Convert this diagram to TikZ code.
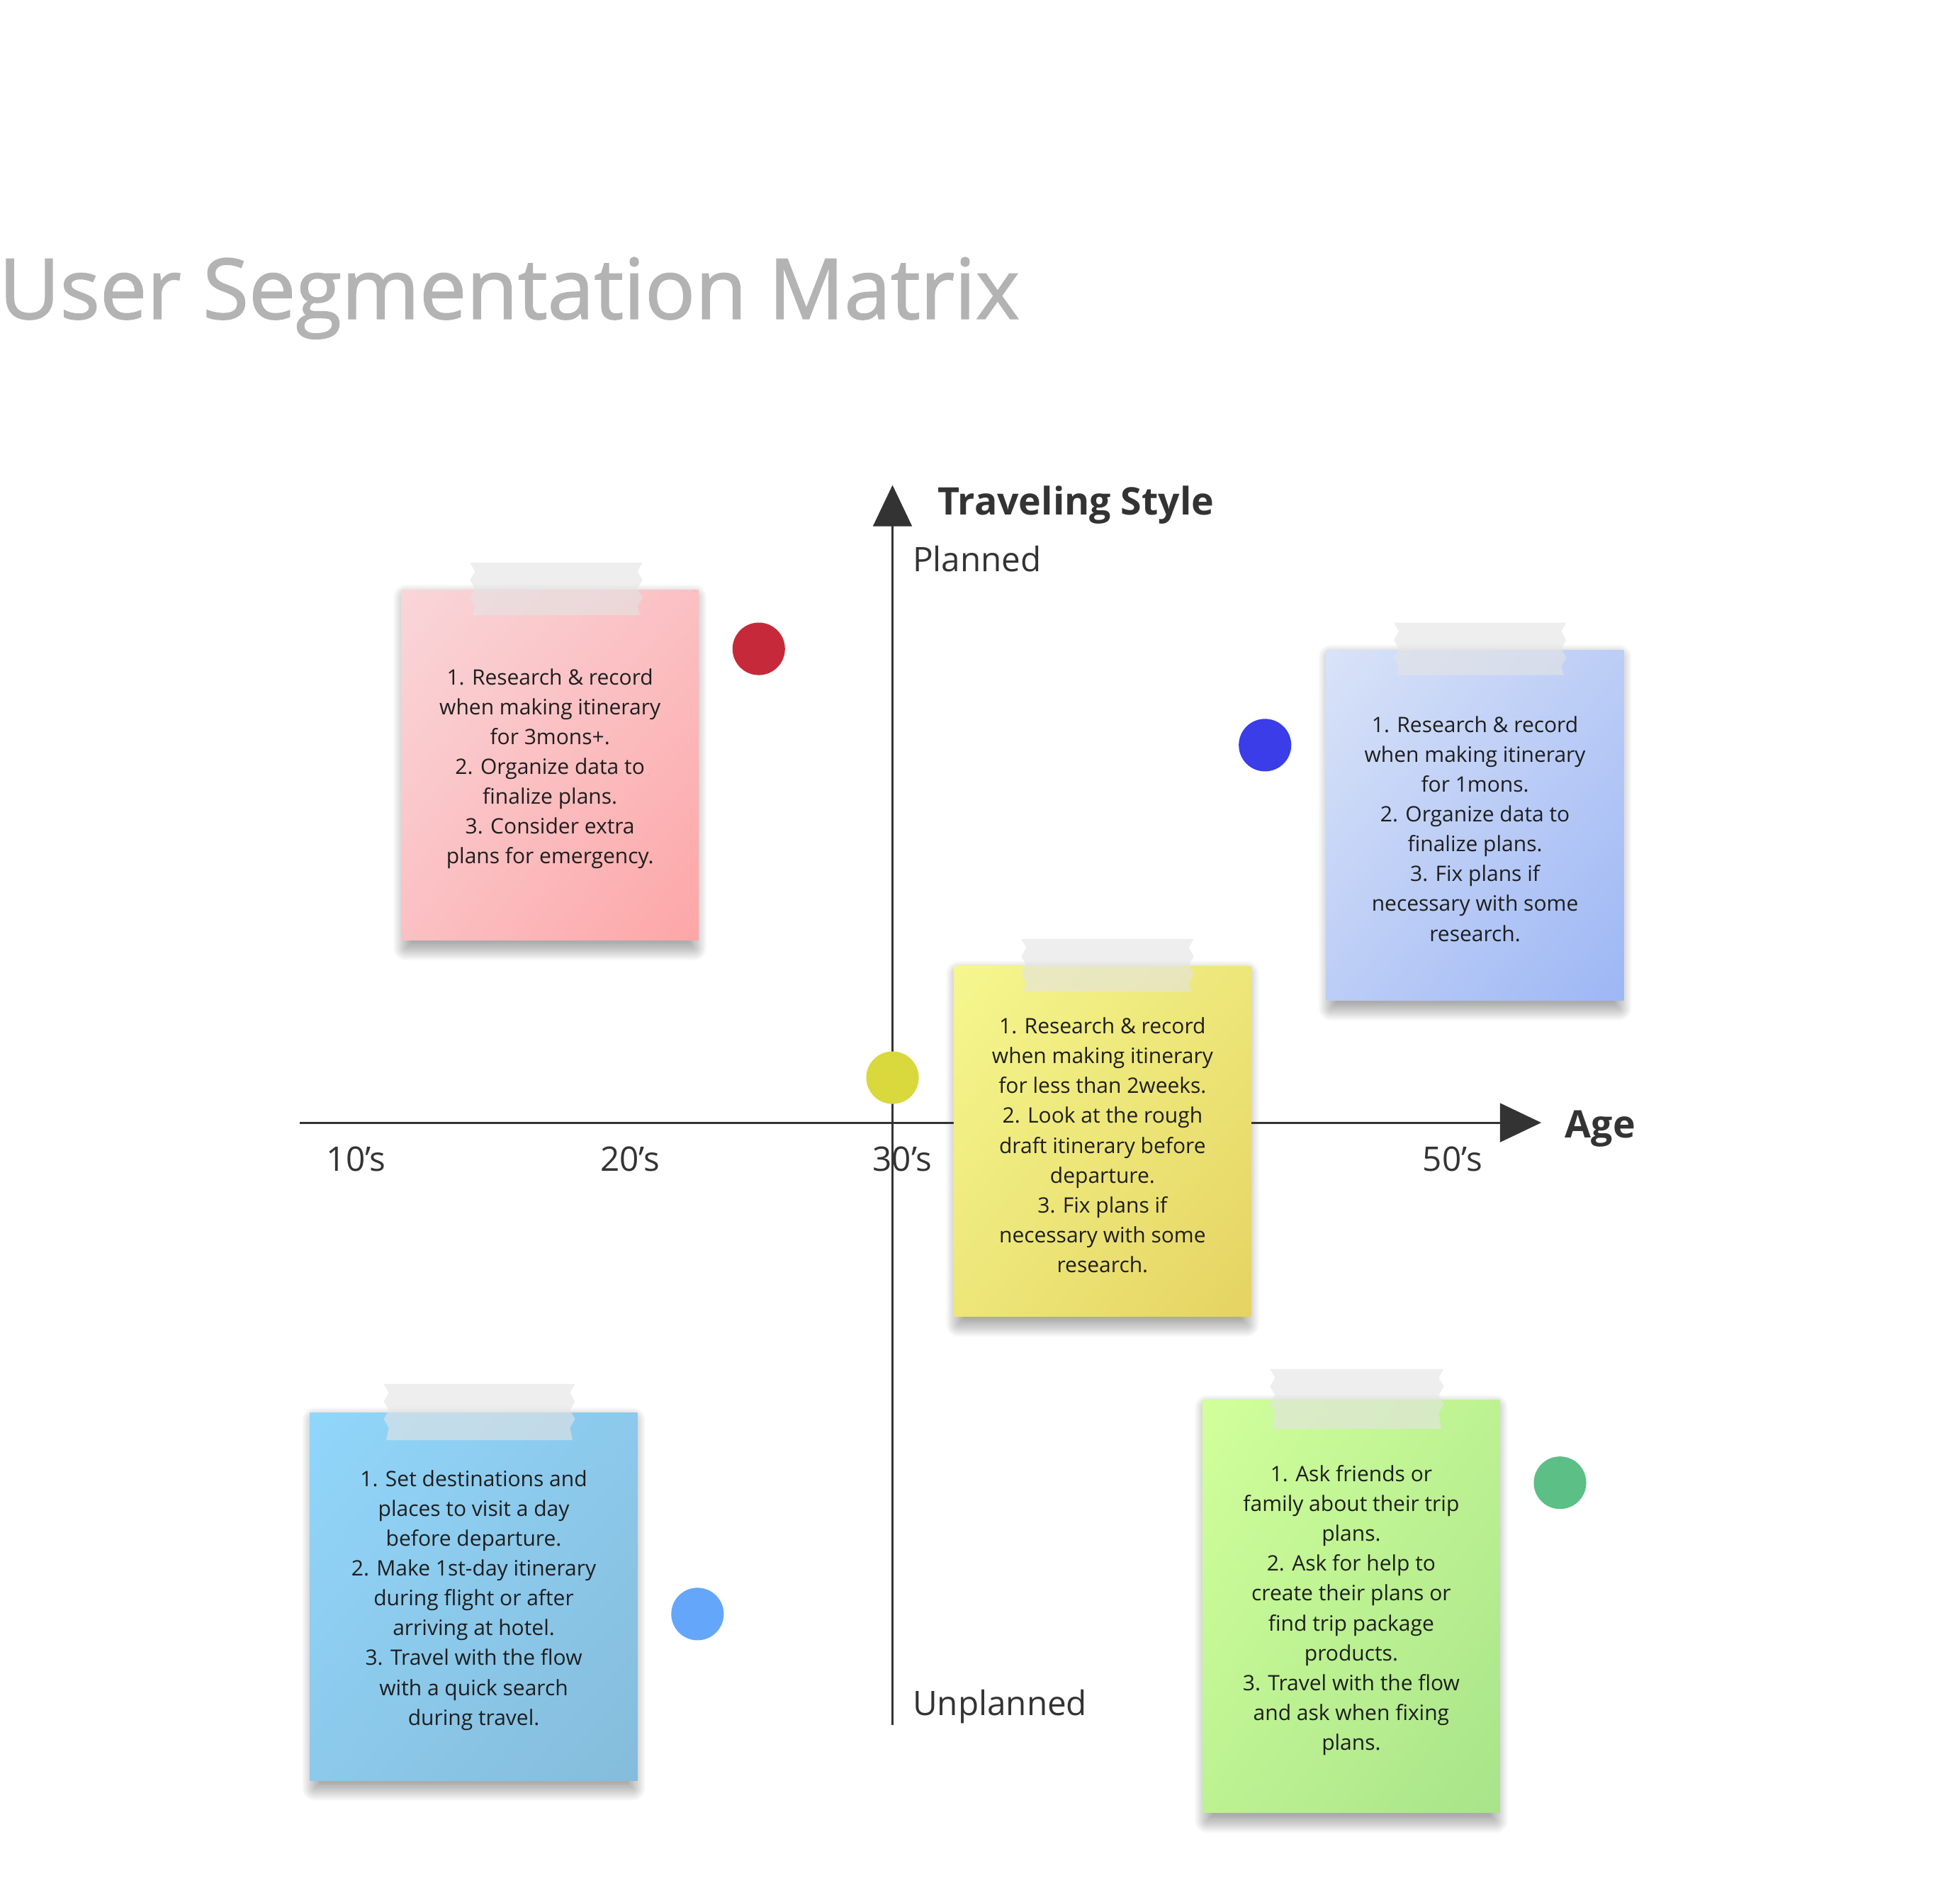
\documentclass[tikz,border=0pt]{standalone}
\usepackage{fontspec}
\setmainfont{Open Sans}
\newfontfamily\titlefont[FakeBold=1.4]{Open Sans}
\usetikzlibrary{arrows.meta,shadings}

\definecolor{inkdark}{HTML}{333333}
\definecolor{notetext}{HTML}{1E1E1E}
\definecolor{titlegray}{HTML}{B3B3B3}
\definecolor{tapegray}{HTML}{E4E4E4}

\definecolor{pinkA}{HTML}{F9D6D9}
\definecolor{pinkM}{HTML}{FBC0C3}
\definecolor{pinkB}{HTML}{FDA6A7}
\definecolor{periA}{HTML}{D9E3F8}
\definecolor{periM}{HTML}{BCCDF6}
\definecolor{periB}{HTML}{9DB7F5}
\definecolor{lemonA}{HTML}{F5F78E}
\definecolor{lemonM}{HTML}{EDE679}
\definecolor{lemonB}{HTML}{E5D362}
\definecolor{skyA}{HTML}{90D6FB}
\definecolor{skyM}{HTML}{8CC9EB}
\definecolor{skyB}{HTML}{85BCDB}
\definecolor{limeA}{HTML}{D1FF9B}
\definecolor{limeM}{HTML}{BDF292}
\definecolor{limeB}{HTML}{A8E48A}

\definecolor{dotRed}{HTML}{C62A3A}
\definecolor{dotBlue}{HTML}{3A3DE8}
\definecolor{dotYellow}{HTML}{D9D83C}
\definecolor{dotSky}{HTML}{64A6FA}
\definecolor{dotGreen}{HTML}{5BBF86}

\pgfdeclarelayer{paper}
\pgfdeclarelayer{shadowlayer}
\pgfsetlayers{paper,shadowlayer,main}

\begin{document}
\begin{tikzpicture}[x=1pt,y=-1pt,
  axis/.style={draw=inkdark, line width=1.7pt, -{Triangle[length=33pt,width=31pt]}},
  axislabel/.style={anchor=base west, inner sep=0pt, text=inkdark, font=\fontsize{27}{31}\selectfont},
  axistitle/.style={anchor=base west, inner sep=0pt, text=inkdark, font=\bfseries\fontsize{30.4}{36}\selectfont},
  note/.style={rectangle, inner sep=0pt},
  notetext/.style={inner sep=0pt, align=center, text=notetext, yshift=-3pt,
    font=\fontsize{17}{23.85}\selectfont},
  dot/.style={circle, minimum size=42pt, inner sep=0pt},
  pics/tape/.style 2 args={code={
    \fill[tapegray, opacity=0.62]
      (0,0) -- (#1,0) -- (#1-4,7) -- (#1,14) -- (#1-4,21) -- (#1,28) -- (#1-4,35) -- (#1-2,#2)
      -- (2,#2) -- (4,35) -- (0,28) -- (4,21) -- (0,14) -- (4,7) -- cycle;
  }}
]
\begin{pgfonlayer}{paper}
  \fill[white] (0,0) rectangle (1568,1510);
\end{pgfonlayer}
\useasboundingbox (0,0) rectangle (1568,1510);

% heading
\node[anchor=base west, inner sep=0pt, text=titlegray, font=\titlefont\fontsize{67}{80}\selectfont]
  (heading) at (-1,255) {User Segmentation Matrix};

% axes
\coordinate (yFoot) at (714,1380);
\coordinate (yTip) at (714,388);
\coordinate (xFoot) at (240,898);
\coordinate (xTip) at (1233,898);
\draw[axis] (yFoot) -- (yTip);
\draw[axis] (xFoot) -- (xTip);

\node[axistitle] (styleTitle) at (750,412) {Traveling Style};
\node[axistitle] (ageTitle) at (1252,910) {Age};
\node[axislabel] (planned) at (730,457) {Planned};
\node[axislabel] (unplanned) at (730,1372) {Unplanned};
\node[axislabel] (t10) at (261,937) {10’s};
\node[axislabel] (t20) at (480,937) {20’s};
\node[axislabel] (t30) at (698,937) {30’s};
\node[axislabel] (t50) at (1138,937) {50’s};

% sticky notes (paper)
\node[note, minimum width=238pt, minimum height=280pt,
  upper left=pinkA, upper right=pinkM, lower left=pinkM, lower right=pinkB]
  (pinkNote) at (440,612) {};
\node[note, minimum width=238pt, minimum height=280pt,
  upper left=periA, upper right=periM, lower left=periM, lower right=periB]
  (periNote) at (1180,660) {};
\node[note, minimum width=238pt, minimum height=280pt,
  upper left=lemonA, upper right=lemonM, lower left=lemonM, lower right=lemonB]
  (lemonNote) at (882,913) {};
\node[note, minimum width=262pt, minimum height=294pt,
  upper left=skyA, upper right=skyM, lower left=skyM, lower right=skyB]
  (skyNote) at (379,1277) {};
\node[note, minimum width=238pt, minimum height=330pt,
  upper left=limeA, upper right=limeM, lower left=limeM, lower right=limeB]
  (limeNote) at (1081,1285) {};

% sticky notes (writing)
\node[notetext] (pinkText) at (pinkNote.center)
  {1. Research \& record\\when making itinerary\\for 3mons+.\\2. Organize data to\\finalize plans.\\3. Consider extra\\plans for emergency.};
\node[notetext] (periText) at (periNote.center)
  {1. Research \& record\\when making itinerary\\for 1mons.\\2. Organize data to\\finalize plans.\\3. Fix plans if\\necessary with some\\research.};
\node[notetext] (lemonText) at (lemonNote.center)
  {1. Research \& record\\when making itinerary\\for less than 2weeks.\\2. Look at the rough\\draft itinerary before\\departure.\\3. Fix plans if\\necessary with some\\research.};
\node[notetext] (skyText) at (skyNote.center)
  {1. Set destinations and\\places to visit a day\\before departure.\\2. Make 1st-day itinerary\\during flight or after\\arriving at hotel.\\3. Travel with the flow\\with a quick search\\during travel.};
\node[notetext] (limeText) at (limeNote.center)
  {1. Ask friends or\\family about their trip\\plans.\\2. Ask for help to\\create their plans or\\find trip package\\products.\\3. Travel with the flow\\and ask when fixing\\plans.};

% soft shadows under the notes
\begin{pgfonlayer}{shadowlayer}
  \foreach \n in {pinkNote,periNote,lemonNote,skyNote,limeNote}{
    \foreach \i in {0,...,14}{
      \pgfmathsetmacro{\e}{\i-4}
      \pgfmathsetmacro{\r}{max(\e,0)}
      \fill[black, opacity=0.022, rounded corners=\r pt]
        ([shift={(4-\e,6-\e)}]\n.north west) rectangle ([shift={(\e-4,6+\e)}]\n.south east);
    }
  }
\end{pgfonlayer}

% tape strips
\pic at (376,450) {tape={138}{42}};
\pic at (1115,498) {tape={138}{42}};
\pic at (817,751) {tape={138}{42}};
\pic at (307,1107) {tape={153}{45}};
\pic at (1016,1095) {tape={139}{48}};

% markers
\node[dot, fill=dotRed] (redMark) at (607,519) {};
\node[dot, fill=dotBlue] (blueMark) at (1012,596) {};
\node[dot, fill=dotYellow] (yellowMark) at (714,862) {};
\node[dot, fill=dotSky] (skyMark) at (558,1291) {};
\node[dot, fill=dotGreen] (greenMark) at (1248,1186) {};
\end{tikzpicture}
\end{document}
